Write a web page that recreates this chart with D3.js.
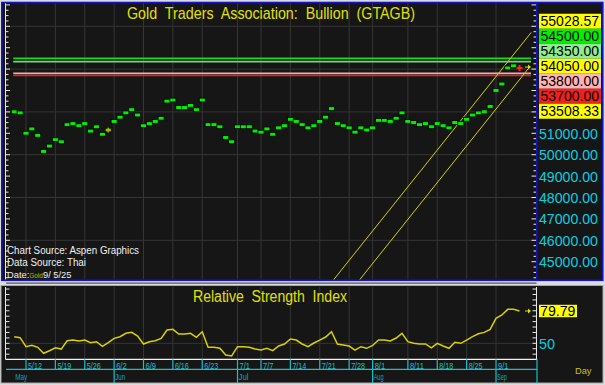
<!DOCTYPE html>
<html lang="en">
<head>
<meta charset="utf-8">
<title>GTAGB</title>
<script src="https://cdn.jsdelivr.net/npm/d3@7"></script>
<style>
  body { margin: 0; background: #dcdcdc; }
  svg { display: block; font-family: "Liberation Sans", Arial, sans-serif; }
</style>
</head>
<body>
<div id="chart"></div>
<script>

// trading days on the x axis
var dates = ["5/8","5/9","5/12","5/13","5/14","5/15","5/16","5/19","5/20","5/21","5/22","5/23",
  "5/26","5/27","5/28","5/29","5/30","6/2","6/3","6/4","6/5","6/6","6/9","6/10","6/11","6/12","6/13",
  "6/16","6/17","6/18","6/19","6/20","6/23","6/24","6/25","6/26","6/27","6/30","7/1","7/2","7/3","7/4",
  "7/7","7/8","7/9","7/10","7/11","7/14","7/15","7/16","7/17","7/18","7/21","7/22","7/23","7/24","7/25",
  "7/28","7/29","7/30","7/31","8/1","8/4","8/5","8/6","8/7","8/8","8/11","8/12","8/13","8/14","8/15",
  "8/18","8/19","8/20","8/21","8/22","8/25","8/26","8/27","8/28","8/29","9/1","9/2","9/3","9/4","9/5"]

// gold bullion close
var price = [52000,51950,51000,51200,50900,50150,50400,50700,50600,51400,
  51450,51350,51450,51100,51300,50950,51150,51550,51750,51950,
  52100,51850,51350,51450,51550,51700,52500,52550,52200,52200,
  52300,52100,52550,51400,51400,51300,50800,50600,51300,51300,
  51300,51100,51050,51200,50950,51250,51350,51650,51550,51400,
  51250,51350,51550,51750,52150,51450,51350,51250,51050,51250,
  51150,51250,51600,51600,51550,51700,51950,51550,51500,51400,
  51450,51300,51450,51350,51250,51500,51450,51650,51850,51950,
  52000,52250,53000,53300,54050,54150,54050]

// relative strength index
var rsi = [56.1,55.2,46.9,48.2,46.3,40.8,43.2,45.9,44.7,52.4,
  53.0,52.1,53.0,50.6,51.5,47.2,50.6,54.6,56.1,59.2,
  60.1,56.7,49.4,51.5,52.4,54.6,62.3,62.9,58.6,58.6,
  59.2,55.5,60.7,46.3,46.3,45.4,39.2,38.3,46.9,46.9,
  46.3,44.7,43.8,45.4,43.2,47.5,49.4,54.0,53.0,49.4,
  46.9,50.3,53.0,55.8,60.7,49.4,48.4,47.5,43.8,46.9,
  45.4,48.0,53.0,53.0,52.1,54.9,59.2,51.5,50.0,49.4,
  49.4,45.9,50.0,47.5,45.4,50.9,50.0,53.0,56.1,58.8,
  60.1,62.9,73.0,76.1,81.3,81.3,79.79]

var weekTicks = ["5/12","5/19","5/26","6/2","6/9","6/16","6/23","7/1","7/7","7/14","7/21","7/28","8/1","8/11","8/18","8/25","9/1"]
var monthNames = ["May","Jun","Jul","Aug","Sep"]
var monthStarts = ["5/8","6/2","7/1","8/1","9/1"]

var priceTicks = [44000,45000,46000,47000,48000,49000,50000,51000,52000,53000,54000,55000,56000,57000]

// horizontal level lines and right side callouts
var levelValues = [54500, 54350, 53800, 53700]
var levelColors = ["#10e010", "#78d878", "#ffa8a8", "#e02424"]
var calloutValues = [55028.57, 54500, 54350, 54050, 53800, 53700, 53508.33]
var calloutColors = ["#ffff00", "#00f000", "#90ec90", "#ffff00", "#ffb4b4", "#f02020", "#ffff00"]

// trend channel: [day index, price]
var upperChannel = [[54, 44033], [88, 55716]]
var lowerChannel = [[58, 43887], [87.5, 54023]]

var rsiTicks = [50]
var rsiLast = 79.79

var width = 605, height = 385

var svg = d3.select("#chart").append("svg")
  .attr("width", width)
  .attr("height", height)

var x = d3.scaleLinear().domain([0, 86]).range([14.25, 519.5])
var y = d3.scaleLinear().domain([44000, 57000]).range([283.1, 4.9])
var yR = d3.scaleLinear().domain([35, 100]).range([359.6, 289.05])
var xi = function(d) { return x(dates.indexOf(d)) }

var plotL = 6, plotR = 536.5, plotT = 3.3, plotB = 279.4

// background
svg.append("rect").attr("width", width).attr("height", height).attr("fill", "#dcdcdc")

// ---------- price panel ----------
var topPanel = svg.append("g")
topPanel.append("rect")
  .attr("x", 1.8).attr("y", 2.5).attr("width", 601).attr("height", 277.8)
  .attr("fill", "#161616").attr("stroke", "#1414c8").attr("stroke-width", 1.6)

svg.append("clipPath").attr("id", "clipTop")
  .append("rect").attr("x", plotL).attr("y", plotT).attr("width", plotR - plotL).attr("height", plotB - plotT)

var grid = topPanel.append("g").attr("stroke", "#353535").attr("stroke-width", 1)
grid.selectAll(".gv").data(weekTicks).enter().append("line")
  .attr("x1", xi).attr("x2", xi).attr("y1", plotT).attr("y2", plotB)
grid.selectAll(".gh").data(priceTicks.filter(function(v){ return v % 2000 == 0 })).enter().append("line")
  .attr("x1", plotL).attr("x2", plotR).attr("y1", y).attr("y2", y)

// left and right axis tick marks
var minor = d3.range(44000, 57001, 250)
topPanel.append("line").attr("x1", 5.5).attr("x2", 5.5).attr("y1", plotT).attr("y2", plotB)
  .attr("stroke", "#e8e8e8").attr("stroke-width", 1)
topPanel.append("g").selectAll("line").data(minor).enter().append("line")
  .attr("x1", 5.5).attr("x2", function(d){ return d % 1000 == 0 ? 10 : 8.5 })
  .attr("y1", y).attr("y2", y)
  .attr("stroke", "#e8e8e8").attr("stroke-width", 1)
  .attr("clip-path", "url(#clipTop)")
topPanel.append("g").selectAll("line").data(minor).enter().append("line")
  .attr("x1", function(d){ return d % 1000 == 0 ? 531.5 : 533.5 }).attr("x2", 536)
  .attr("y1", y).attr("y2", y)
  .attr("stroke", "#e8e8e8").attr("stroke-width", 1)
  .attr("clip-path", "url(#clipTop)")
topPanel.append("line").attr("x1", 536.8).attr("x2", 536.8).attr("y1", 2.5).attr("y2", 280)
  .attr("stroke", "#1414c8").attr("stroke-width", 1.4)

// level lines
topPanel.append("g").selectAll("line").data(levelValues).enter().append("line")
  .attr("x1", x(0) - 1).attr("x2", 531)
  .attr("y1", y).attr("y2", y)
  .attr("stroke", function(d, i){ return levelColors[i] })
  .attr("stroke-width", 1.6)

// trend channel
var chan = d3.line().x(function(d){ return x(d[0]) }).y(function(d){ return y(d[1]) })
topPanel.append("g").attr("clip-path", "url(#clipTop)").selectAll("path")
  .data([upperChannel, lowerChannel]).enter().append("path")
  .attr("d", chan).attr("fill", "none").attr("stroke", "#d4d400").attr("stroke-width", 1)

// price markers
var last = price.length - 1
topPanel.append("g").selectAll("rect").data(price.slice(0, last)).enter().append("rect")
  .attr("x", function(d, i){ return x(i) - 3 })
  .attr("y", function(d){ return y(d) - 2 })
  .attr("width", 6).attr("height", 3.8)
  .attr("fill", "#00ee00").attr("stroke", "#050505").attr("stroke-width", 0.8)

// small event cross on 5/30
var ev = dates.indexOf("5/30")
topPanel.append("path")
  .attr("d", "M" + (x(ev) - 2.5) + "," + y(price[ev]) + "h5M" + x(ev) + "," + (y(price[ev]) - 2.5) + "v5")
  .attr("stroke", "#d8a000").attr("stroke-width", 1.2)

// last bar: red cross
topPanel.append("path")
  .attr("d", "M" + (x(last) - 3) + "," + y(price[last]) + "h6M" + x(last) + "," + (y(price[last]) - 3) + "v6")
  .attr("stroke", "#ff2020").attr("stroke-width", 2)

function arrow(g, ax, ay) {
  g.append("path")
    .attr("d", "M" + (ax - 4) + "," + ay + "H" + ax)
    .attr("stroke", "#e0e000").attr("stroke-width", 1)
  g.append("path")
    .attr("d", "M" + (ax + 2) + "," + ay + "L" + (ax - 1) + "," + (ay - 2.5) + "L" + (ax - 1) + "," + (ay + 2.5) + "Z")
    .attr("fill", "#e0e000")
}
arrow(topPanel, 529, y(price[last]) - 1)

// title
topPanel.append("text")
  .attr("x", 271).attr("y", 18.5)
  .attr("text-anchor", "middle")
  .attr("font-size", 17).attr("fill", "#e0e000")
  .attr("textLength", 288).attr("lengthAdjust", "spacingAndGlyphs")
  .style("white-space", "pre")
  .text("Gold  Traders  Association:  Bullion  (GTAGB)")

// source text: [text, baseline, width]
var src = [["Chart Source: Aspen Graphics", 254, 132], ["Data Source: Thai", 266, 79]]
topPanel.append("g").selectAll("text").data(src).enter().append("text")
  .attr("x", 7).attr("y", function(d){ return d[1] })
  .attr("font-size", 10).attr("fill", "#f0f0f0")
  .attr("textLength", function(d){ return d[2] }).attr("lengthAdjust", "spacingAndGlyphs")
  .text(function(d){ return d[0] })

// date line, with the small series tag sitting inside it
var dl = topPanel.append("text")
  .attr("x", 7).attr("y", 278).attr("font-size", 9.3).attr("fill", "#f0f0f0")
  .style("white-space", "pre")
dl.append("tspan").text("Date:")
dl.append("tspan").attr("font-size", 6.5).attr("fill", "#a8c000").text("Gold")
dl.append("tspan").text("9/ 5/25")

// callout boxes, stacked around the mean of their levels
var boxH = 15
var boxTop = d3.mean(calloutValues, y) - boxH * calloutValues.length / 2
var boxBottom = boxTop + boxH * calloutValues.length

// price axis labels that are not covered by callouts
topPanel.append("g").selectAll("text")
  .data(priceTicks.filter(function(v){ var p = y(v); return p > 10 && p < plotB - 6 && (p > boxBottom + 7 || p < boxTop - 7) }))
  .enter().append("text")
  .attr("x", 539).attr("y", y).attr("dy", "0.36em")
  .attr("font-size", 15).attr("fill", "#08d0e0")
  .attr("textLength", 59).attr("lengthAdjust", "spacingAndGlyphs")
  .text(function(d){ return d3.format(".2f")(d) })

var cb = topPanel.append("g").selectAll("g").data(calloutValues).enter().append("g")
cb.append("rect")
  .attr("x", 539).attr("y", function(d, i){ return boxTop + i * boxH })
  .attr("width", 62).attr("height", boxH)
  .attr("fill", function(d, i){ return calloutColors[i] })
cb.append("text")
  .attr("x", 540.5).attr("y", function(d, i){ return boxTop + i * boxH + boxH / 2 })
  .attr("dy", "0.36em")
  .attr("font-size", 14.5).attr("fill", "#000")
  .attr("textLength", 58.5).attr("lengthAdjust", "spacingAndGlyphs")
  .text(function(d){ return d3.format(".2f")(d) })

// ---------- RSI panel ----------
var rTop = 287, rBot = 359.3
var low = svg.append("g")
low.append("rect")
  .attr("x", 1).attr("y", 285.5).attr("width", 602).attr("height", 97.5)
  .attr("fill", "#161616").attr("stroke", "#a8a8a8").attr("stroke-width", 1)

var rgrid = low.append("g").attr("stroke", "#353535").attr("stroke-width", 1)
rgrid.selectAll(".gv").data(weekTicks).enter().append("line")
  .attr("x1", xi).attr("x2", xi).attr("y1", rTop).attr("y2", rBot)
rgrid.selectAll(".gh").data(rsiTicks).enter().append("line")
  .attr("x1", plotL).attr("x2", plotR).attr("y1", yR).attr("y2", yR)

var rminor = d3.range(40, 101, 5)
low.append("line").attr("x1", 5.5).attr("x2", 5.5).attr("y1", rTop).attr("y2", rBot)
  .attr("stroke", "#e8e8e8")
low.append("line").attr("x1", 536.5).attr("x2", 536.5).attr("y1", rTop).attr("y2", rBot)
  .attr("stroke", "#e8e8e8")
low.append("g").selectAll("line").data(rminor).enter().append("line")
  .attr("x1", 5.5).attr("x2", 9.5).attr("y1", yR).attr("y2", yR).attr("stroke", "#e8e8e8")
low.append("g").selectAll("line").data(rminor).enter().append("line")
  .attr("x1", 532.5).attr("x2", 536.5).attr("y1", yR).attr("y2", yR).attr("stroke", "#e8e8e8")
low.append("line").attr("x1", 5.5).attr("x2", 537).attr("y1", rBot).attr("y2", rBot)
  .attr("stroke", "#f0f0f0").attr("stroke-width", 1.2)

low.append("path")
  .datum(rsi)
  .attr("d", d3.line().x(function(d, i){ return x(i) }).y(yR))
  .attr("fill", "none").attr("stroke", "#d8d000").attr("stroke-width", 1.5)

low.append("text")
  .attr("x", 270).attr("y", 301.7).attr("text-anchor", "middle")
  .attr("font-size", 16).attr("fill", "#e0e000")
  .attr("textLength", 154).attr("lengthAdjust", "spacingAndGlyphs")
  .style("white-space", "pre")
  .text("Relative  Strength  Index")

arrow(low, 529, yR(rsiLast))
low.append("rect")
  .attr("x", 539).attr("y", yR(rsiLast) - 6.2).attr("width", 38).attr("height", 12.4)
  .attr("fill", "#ffff00")
low.append("text")
  .attr("x", 540).attr("y", yR(rsiLast)).attr("dy", "0.36em")
  .attr("font-size", 14.5).attr("fill", "#000")
  .attr("textLength", 35.5).attr("lengthAdjust", "spacingAndGlyphs")
  .text(d3.format(".2f")(rsiLast))
low.append("g").selectAll("text").data(rsiTicks).enter().append("text")
  .attr("x", 539).attr("y", yR).attr("dy", "0.36em")
  .attr("font-size", 15).attr("fill", "#08d0e0")
  .attr("textLength", 16).attr("lengthAdjust", "spacingAndGlyphs")
  .text(function(d){ return d })

// date rows
var cyan = "#18c0c8"
low.append("line").attr("x1", 6).attr("x2", 537).attr("y1", 369.3).attr("y2", 369.3)
  .attr("stroke", cyan).attr("stroke-width", 1.2)
low.append("line").attr("x1", 537).attr("x2", 537).attr("y1", rBot).attr("y2", 383)
  .attr("stroke", cyan).attr("stroke-width", 1.2)
low.append("g").selectAll("line").data(weekTicks).enter().append("line")
  .attr("x1", xi).attr("x2", xi)
  .attr("y1", rBot)
  .attr("y2", function(d){ return monthStarts.indexOf(d) > 0 ? 383 : 369.3 })
  .attr("stroke", cyan).attr("stroke-width", 1.2)
low.append("g").selectAll("text").data(weekTicks).enter().append("text")
  .attr("x", function(d){ return xi(d) + 2 }).attr("y", 368.5)
  .attr("font-size", 8.5).attr("fill", "#20c0c8")
  .attr("textLength", function(d){ return d.length * 3.5 }).attr("lengthAdjust", "spacingAndGlyphs")
  .text(function(d){ return d })
low.append("g").selectAll("text").data(monthNames).enter().append("text")
  .attr("x", function(d, i){ return xi(monthStarts[i]) + 1 }).attr("y", 380)
  .attr("font-size", 8.5).attr("fill", "#14a4ac")
  .attr("textLength", function(d){ return d == "May" ? 12 : 10 }).attr("lengthAdjust", "spacingAndGlyphs")
  .text(function(d){ return d })

low.append("text")
  .attr("x", 575).attr("y", 373.5)
  .attr("font-size", 9.5).attr("fill", "#d0c000")
  .attr("textLength", 16.5).attr("lengthAdjust", "spacingAndGlyphs")
  .text("Day")

</script>
</body>
</html>
